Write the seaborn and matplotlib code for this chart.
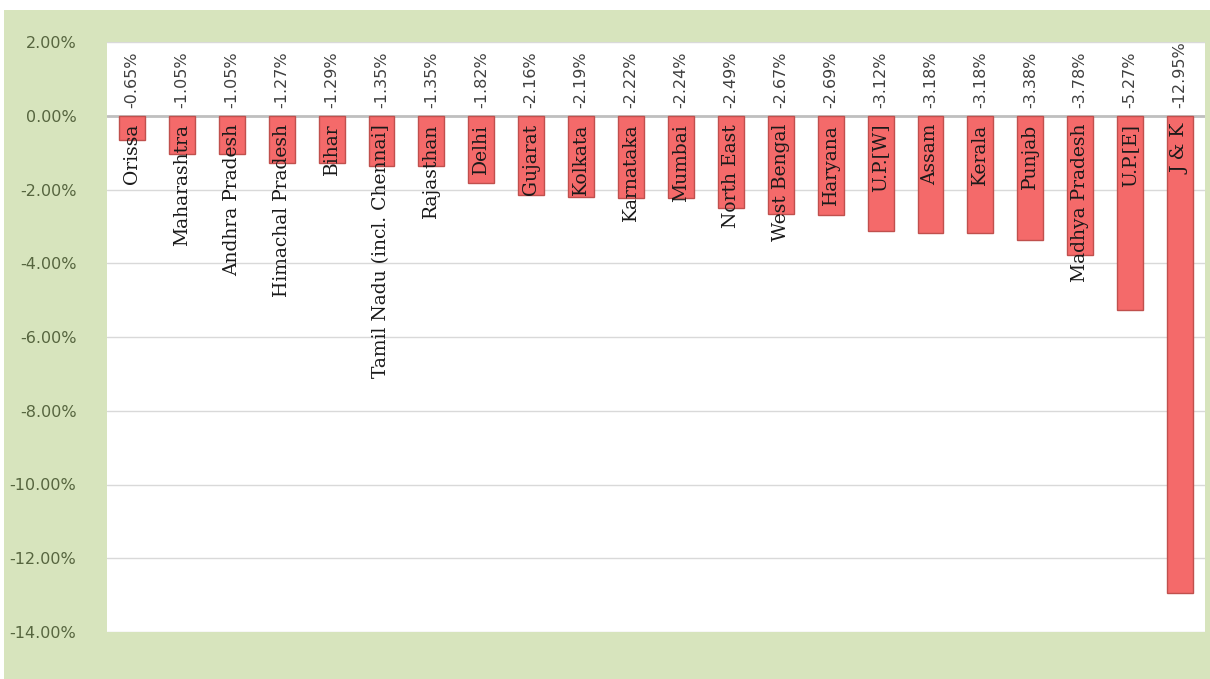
import numpy as np
import pandas as pd
import matplotlib
matplotlib.use("Agg")
import matplotlib.pyplot as plt
from matplotlib.patches import Rectangle
from matplotlib.ticker import FuncFormatter
import seaborn as sns

# region names and change (%)
regions = ["Orissa", "Maharashtra", "Andhra Pradesh", "Himachal Pradesh", "Bihar",
           "Tamil Nadu (incl. Chennai]", "Rajasthan", "Delhi", "Gujarat", "Kolkata",
           "Karnataka", "Mumbai", "North East", "West Bengal", "Haryana", "U.P.[W]",
           "Assam", "Kerala", "Punjab", "Madhya Pradesh", "U.P.[E]", "J & K"]
change = [-0.65, -1.05, -1.05, -1.27, -1.29, -1.35, -1.35, -1.82, -2.16, -2.19,
          -2.22, -2.24, -2.49, -2.67, -2.69, -3.12, -3.18, -3.18, -3.38, -3.78,
          -5.27, -12.95]
y_ticks = [2, 0, -2, -4, -6, -8, -10, -12, -14]

df = pd.DataFrame({"region": regions, "change": change})

sns.set_style("white")
fig = plt.figure(figsize=(12.1, 6.79), dpi=100, facecolor="white")

# green chart area (small white strip on top / left like the screenshot)
fig.patches.append(Rectangle((4 / 1210, 0), 1, (679 - 10) / 679, transform=fig.transFigure,
                             facecolor="#d7e4bd", edgecolor="none", zorder=-5))

ax = fig.add_axes([107 / 1210, 47 / 679, (1205 - 107) / 1210, (632 - 42) / 679])
ax.set_zorder(2)
ax.set_facecolor("white")

sns.barplot(data=df, x="region", y="change", ax=ax, color="#f46a6a", width=0.52,
            edgecolor="#c0504d", linewidth=1.0, saturation=1, zorder=3)

ax.set_ylim(-14, 2)
ax.set_xlim(-0.5, len(regions) - 0.5)
ax.set_yticks(y_ticks)
ax.yaxis.set_major_formatter(FuncFormatter(lambda v, p: f"{v:.2f}%"))
ax.tick_params(axis="y", length=0, pad=22, labelsize=11.5, labelcolor="#56653f")
ax.set_xticks([])
ax.set_xlabel("")
ax.set_ylabel("")
for s in ax.spines.values():
    s.set_visible(False)

ax.grid(axis="y", color="#d9d9d9", linewidth=1.0, zorder=0)
ax.axhline(0, color="#bfbfbf", linewidth=2.0, zorder=2)

for i, (name, val) in enumerate(zip(regions, change)):
    ax.text(i, -0.22, name, rotation=90, ha="center", va="top", fontsize=13.5,
            family="DejaVu Serif", color="#1a1a1a", zorder=5)
    ax.text(i, 0.2, f"{val:.2f}%", rotation=90, ha="center", va="bottom", fontsize=11.5,
            color="#404040", zorder=5)

fig.savefig("out.png", dpi=100, facecolor=fig.get_facecolor())
